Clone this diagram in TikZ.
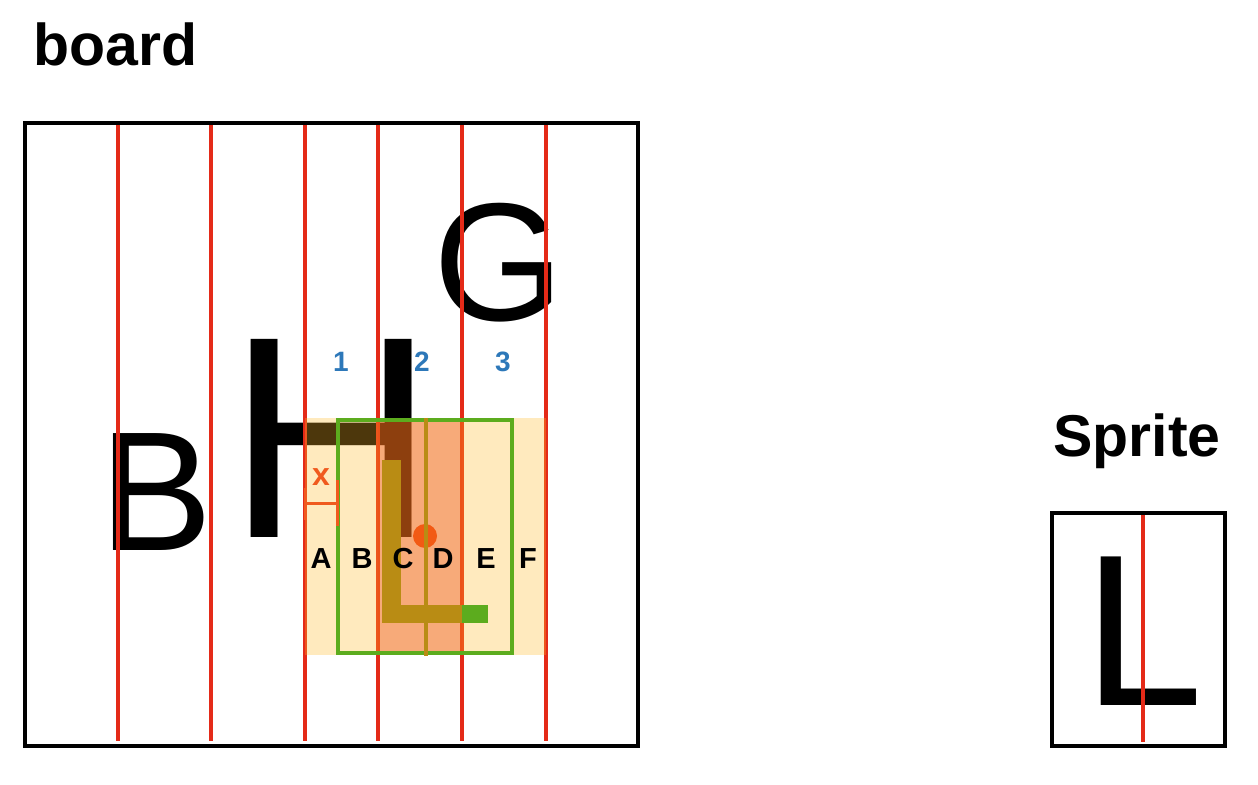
\documentclass[tikz,border=0pt]{standalone}
\usepackage{fontspec}
\setmainfont{Liberation Sans}
\definecolor{gridred}{RGB}{228,42,24}
\definecolor{lightov}{RGB}{255,185,40}
\definecolor{salmonov}{RGB}{237,75,18}
\definecolor{boxgreen}{RGB}{92,172,30}
\definecolor{olive}{RGB}{185,140,20}
\definecolor{numblue}{RGB}{45,120,185}
\definecolor{dotorange}{RGB}{242,90,20}
\definecolor{dimorange}{RGB}{240,90,30}
\begin{document}
\begin{tikzpicture}[x=0.5pt,y=-0.5pt,
  frame/.style={draw=black,line width=2pt},
  gridline/.style={draw=gridred,line width=1.6pt},
  bigletter/.style={inner sep=0pt,anchor=center,text=black},
  title/.style={inner sep=0pt,anchor=base west,font=\fontsize{29.5}{32}\selectfont\bfseries},
  colnum/.style={inner sep=0pt,text=numblue,font=\fontsize{14}{16}\selectfont\bfseries},
  collab/.style={inner sep=0pt,text=black,font=\fontsize{14.5}{16}\selectfont\bfseries},
  dim/.style={draw=dimorange,line width=1.5pt}]
\useasboundingbox (0,0) rectangle (1258,785);

% titles
\node[title] (boardtitle) at (33,66) {board};
\node[title] (spritetitle) at (1053,457) {Sprite};

% big letters on the board
\node[bigletter,font=\fontsize{85}{90}\selectfont] (letB) at (156,492) {B};
\node[bigletter,font=\fontsize{144}{150}\selectfont] (letH) at (331,438) {H};
\node[bigletter,font=\fontsize{84}{90}\selectfont] (letG) at (499,263) {G};

% red grid lines
\foreach \xx/\nm in {118/r1,211/r2,305/r3,378/r4,462/r5,546/r6}{
  \coordinate (\nm t) at (\xx,123);
  \coordinate (\nm b) at (\xx,741);
  \draw[gridline] (\nm t) -- (\nm b);
}

% overlays
\fill[lightov,fill opacity=0.3] (305,418) rectangle (546,655);
\fill[salmonov,fill opacity=0.4] (378,418) rectangle (462,655);

% green sprite box
\draw[draw=boxgreen,line width=1.8pt] (338,420) rectangle (512,653);

% dot and olive centre line
\fill[dotorange] (425,536) circle (12);
\coordinate (olt) at (426,418);
\coordinate (olb) at (426,656);
\draw[draw=olive,line width=1.6pt] (olt) -- (olb);

% L drawn on the board
\fill[olive] (382,460) rectangle (401,623);
\fill[olive] (382,605) rectangle (462,623);
\fill[boxgreen] (462,605) rectangle (488,623);

% column numbers
\node[colnum] (n1) at (341,362) {1};
\node[colnum] (n2) at (422,362) {2};
\node[colnum] (n3) at (503,362) {3};

% letters A-F
\foreach \xx/\tx in {321/A,362/B,403/C,443/D,486/E,528/F}{
  \node[collab] (col\tx) at (\xx,558.5) {\tx};
}

% x offset dimension
\node[inner sep=0pt,text=dimorange,font=\fontsize{16}{18}\selectfont\bfseries] (xlab) at (321,477) {x};
\coordinate (dl) at (305,504);
\coordinate (dr) at (337,504);
\draw[dim] (dl) -- (dr);
\draw[dim] ([yshift=-11]dr) -- ([yshift=12]dr);
\draw[dim] ([yshift=-8]dl) -- ([yshift=8]dl);

% board frame
\draw[frame] (25,123) rectangle (638,746);

% sprite
\node[bigletter,font=\fontsize{108}{115}\selectfont] (spriteL) at (1144,631) {L};
\coordinate (srt) at (1143,513);
\coordinate (srb) at (1143,742);
\draw[gridline] (srt) -- (srb);
\draw[frame] (1052,513) rectangle (1225,746);
\end{tikzpicture}
\end{document}
